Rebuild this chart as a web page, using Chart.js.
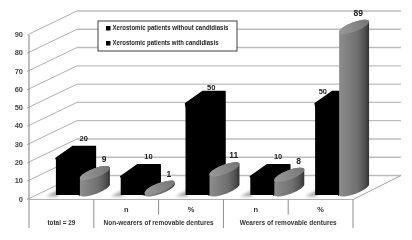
<!DOCTYPE html>
<html>
<head>
<meta charset="utf-8">
<style>
  html, body { margin: 0; padding: 0; background: #fff; }
  canvas { display: block; filter: blur(0.35px); }
</style>
<script src="https://cdn.jsdelivr.net/npm/chart.js@4"></script>
</head>
<body>
<canvas id="myChart" width="412" height="240"></canvas>
<script>
var categories = ['', 'n', '%', 'n', '%'];
var withoutCandidiasis = [20, 10, 50, 10, 50];
var withCandidiasis = [9, 1, 11, 8, 89];
var seriesNames = ['Xerostomic patients without candidiasis', 'Xerostomic patients with candidiasis'];
var groupLabels = ['total = 29', 'Non-wearers of removable dentures', 'Wearers of removable dentures'];
var groupFirst = [0, 1, 3];
var groupLast = [0, 2, 4];

// the bars stand on a plane in front of the axis plane, these move things between them
var planeShift = 18;
var wallX = 48, wallY = -24;
var barDepthX = 17, barDepthY = -12;
var font = '"Liberation Sans"';
// the reference text is condensed, fillText squeezes to these widths
var groupWidths = [28, 110, 97];
var legendWidths = [116, 106];

function line(ctx, x1, y1, x2, y2, color, w) {
    ctx.strokeStyle = color;
    ctx.lineWidth = w;
    ctx.beginPath();
    ctx.moveTo(x1, y1);
    ctx.lineTo(x2, y2);
    ctx.stroke();
}

function text(ctx, str, x, y, size, color, maxW) {
    ctx.font = 'bold ' + size + 'px ' + font;
    ctx.fillStyle = color;
    ctx.textAlign = 'center';
    ctx.textBaseline = 'middle';
    ctx.fillText(str, x, y, maxW);
}

var fake3d = {
    id: 'fake3d',
    beforeDatasetsDraw: function (chart) {
        var ctx = chart.ctx, a = chart.chartArea, y = chart.scales.y;
        var left = a.left - planeShift, right = a.right - planeShift;
        ctx.save();
        // walls
        y.ticks.forEach(function (t) {
            var py = y.getPixelForValue(t.value);
            line(ctx, left + wallX, py + wallY, right + wallX, py + wallY, '#bdbdbd', 1.4);
            line(ctx, left - 2, py, left + wallX, py + wallY, '#9a9a9a', 0.8);
        });
        // floor and axis
        var zero = y.getPixelForValue(0);
        line(ctx, left, y.getPixelForValue(90), left, zero, '#808080', 1);
        line(ctx, left, zero, right, zero, '#b0b0b0', 1);
        line(ctx, right, zero, right + wallX, zero + wallY, '#a0a0a0', 1);
        // separators under the floor
        var step = (a.right - a.left) / categories.length;
        for (var i = 0; i <= categories.length; i++) {
            var long = i === 0 || i === 1 || i === 3 || i === 5;
            line(ctx, left + step * i, zero, left + step * i, zero + (long ? 28.5 : 15), '#8c8c8c', 1);
        }
        // floor shadows and bar depth
        var black = chart.getDatasetMeta(0).data;
        black.forEach(function (bar) {
            var x0 = bar.x - bar.width / 2, x1 = bar.x + bar.width / 2;
            ctx.save();
            ctx.filter = 'blur(1.5px)';
            ctx.fillStyle = '#a8a8a8';
            ctx.beginPath();
            ctx.moveTo(x0 - 10, bar.base + 1.5);
            ctx.lineTo(x0 + 2, bar.base - 5);
            ctx.lineTo(x0 + 2, bar.base + 1.5);
            ctx.closePath();
            ctx.fill();
            ctx.restore();
            ctx.fillStyle = '#000';
            ctx.strokeStyle = '#000';
            ctx.lineJoin = 'round';
            ctx.lineWidth = 1.5;
            ctx.beginPath();
            ctx.moveTo(x0, bar.y);
            ctx.lineTo(x0 + barDepthX, bar.y + barDepthY);
            ctx.lineTo(x1 + barDepthX - 1, bar.y + barDepthY);
            ctx.lineTo(x1 + barDepthX - 1, bar.base + barDepthY);
            ctx.lineTo(x1, bar.base);
            ctx.closePath();
            ctx.fill();
            ctx.stroke();
        });
        ctx.restore();
    },
    beforeDatasetDraw: function (chart, args) {
        // grey series is drawn as cylinders afterwards
        if (args.index === 1) return false;
    },
    afterDatasetsDraw: function (chart) {
        var ctx = chart.ctx;
        var rx = 16, ry = 4.6, rot = -0.36;
        ctx.save();
        chart.getDatasetMeta(1).data.forEach(function (bar) {
            var xl = bar.x - bar.width / 2;
            var cx = xl + 15.5, topY = bar.y - 5.5, baseY = bar.base - 5.5;
            var g = ctx.createLinearGradient(xl, 0, xl + 31, 0);
            g.addColorStop(0, '#8e8e8e');
            g.addColorStop(0.15, '#868686');
            g.addColorStop(0.6, '#707070');
            g.addColorStop(0.85, '#505050');
            g.addColorStop(1, '#2e2e2e');
            ctx.fillStyle = g;
            ctx.beginPath();
            ctx.ellipse(cx, baseY, rx, ry, rot, 0, Math.PI);
            ctx.ellipse(cx, topY, rx, ry, rot, Math.PI, Math.PI * 2);
            ctx.closePath();
            ctx.fill();
            var t = ctx.createLinearGradient(xl, bar.y, xl + 31, bar.y - 11);
            t.addColorStop(0, '#9a9a9a');
            t.addColorStop(1, '#757575');
            ctx.fillStyle = t;
            ctx.beginPath();
            ctx.ellipse(cx, topY, rx, ry, rot, 0, Math.PI * 2);
            ctx.fill();
        });

        // value labels
        chart.getDatasetMeta(0).data.forEach(function (bar, i) {
            var big = withoutCandidiasis[i] === 50;
            var nudgeX = big ? (i === 2 ? 14 : -4) : 16;
            var nudgeY = big ? (i === 2 ? -15.5 : -11.5) : -20;
            text(ctx, withoutCandidiasis[i], bar.x + nudgeX, bar.y + nudgeY, 7.5, '#222');
        });
        chart.getDatasetMeta(1).data.forEach(function (bar, i) {
            var nudgeX = withCandidiasis[i] === 89 ? 8 : 13;
            text(ctx, withCandidiasis[i], bar.x + nudgeX, bar.y - 19, 8.5, '#222');
        });

        // group labels under the n / % row
        var x = chart.scales.x;
        groupLabels.forEach(function (label, i) {
            var mid = (x.getPixelForTick(groupFirst[i]) + x.getPixelForTick(groupLast[i])) / 2 - planeShift;
            text(ctx, label, mid, 223, 7.8, '#333', groupWidths[i]);
        });

        // legend box
        ctx.fillStyle = '#fff';
        ctx.fillRect(98, 21, 139, 30);
        ctx.strokeStyle = '#404040';
        ctx.lineWidth = 1;
        ctx.strokeRect(98, 21, 139, 30);
        seriesNames.forEach(function (name, i) {
            var py = i === 0 ? 28 : 43;
            ctx.fillStyle = '#000';
            ctx.fillRect(106, py - 2, 4.5, 4.5);
            ctx.font = 'bold 7.5px ' + font;
            ctx.textAlign = 'left';
            ctx.textBaseline = 'middle';
            ctx.fillStyle = '#222';
            ctx.fillText(name, 112.5, py, legendWidths[i]);
        });
        ctx.restore();
    }
};

new Chart(document.getElementById('myChart').getContext('2d'), {
    type: 'bar',
    data: {
        labels: categories,
        datasets: [
            { label: seriesNames[0], data: withoutCandidiasis, backgroundColor: '#000', yAxisID: 'yBars' },
            { label: seriesNames[1], data: withCandidiasis, backgroundColor: '#7a7a7a', yAxisID: 'yBars' }
        ]
    },
    options: {
        responsive: false,
        animation: false,
        devicePixelRatio: 1,
        categoryPercentage: 0.725,
        barPercentage: 1,
        layout: { padding: { top: 35, right: 41, left: 0, bottom: 0 } },
        plugins: { legend: { display: false }, tooltip: { enabled: false } },
        scales: {
            x: {
                grid: { display: false, drawTicks: false },
                border: { display: false },
                afterFit: function (scale) { scale.height = 40.5; },
                ticks: {
                    maxRotation: 0,
                    autoSkip: false,
                    labelOffset: -planeShift,
                    padding: 6,
                    color: '#333',
                    font: { family: font, size: 7.5, weight: 'bold' }
                }
            },
            y: {
                min: 0,
                max: 90,
                grid: { display: false, drawTicks: false },
                border: { display: false },
                afterFit: function (scale) { scale.width = 47; },
                ticks: {
                    stepSize: 10,
                    padding: 24,
                    color: '#444',
                    font: { family: font, size: 7.5, weight: 'bold' }
                }
            },
            yBars: {
                display: false,
                min: -2.46,
                max: 87.54
            }
        }
    },
    plugins: [fake3d]
});
</script>
</body>
</html>
